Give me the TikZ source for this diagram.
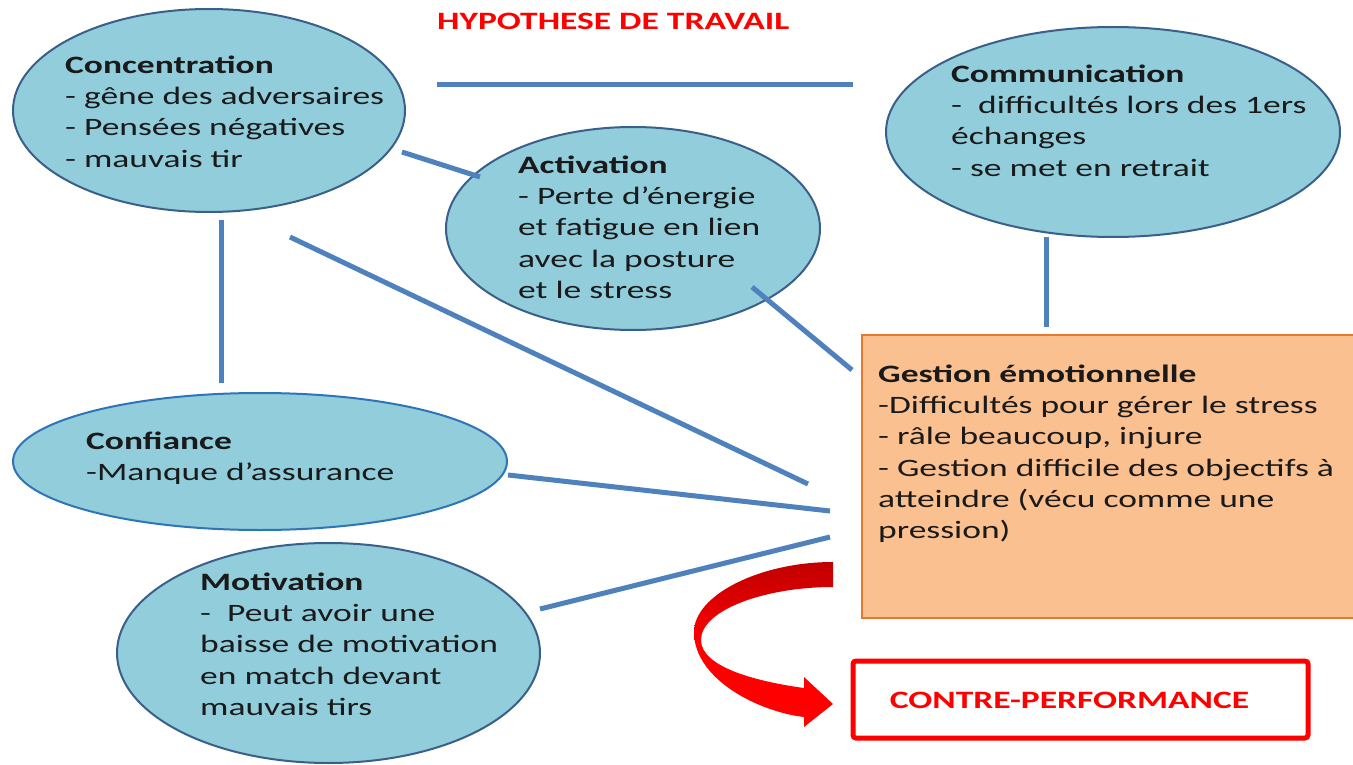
\documentclass[tikz,border=0pt]{standalone}
\usepackage{fontspec}
\setmainfont{Carlito}[FakeStretch=1.42]
\usetikzlibrary{shapes.geometric}
\definecolor{ellfill}{HTML}{92CDDC}
\definecolor{elldraw}{HTML}{3A5F8A}
\definecolor{confdraw}{HTML}{2E75B6}
\definecolor{linkblue}{HTML}{4F81BD}
\definecolor{gestfill}{HTML}{FAC090}
\definecolor{gestdraw}{HTML}{E9782F}
\definecolor{darkarrow}{HTML}{C00000}
\definecolor{txt}{HTML}{1A1A1A}
\newcommand{\firststrut}{\rule{0pt}{20pt}}
\begin{document}
\begin{tikzpicture}[x=1pt,y=-1pt,
  bubble/.style={ellipse, fill=ellfill, draw=elldraw, line width=2pt, inner sep=0pt},
  bodytext/.style={anchor=north west, inner sep=0pt, align=left, text=txt, font=\fontsize{25}{31.3}\selectfont},
  link/.style={draw=linkblue, line width=5pt},
  redtitle/.style={text=red, font=\fontsize{25}{30}\selectfont\bfseries, inner sep=0pt}]
\useasboundingbox (0,0) rectangle (1353,765);
\fill[white] (0,0) rectangle (1353,765);

% shapes
\node[bubble, minimum width=392pt, minimum height=203pt] (conc) at (209,110.5) {};
\node[bubble, minimum width=374pt, minimum height=203pt] (act) at (633,228.5) {};
\node[bubble, minimum width=454pt, minimum height=210pt] (comm) at (1113,132) {};
\node[bubble, draw=confdraw, minimum width=494pt, minimum height=137pt] (conf) at (260,461.5) {};
\node[bubble, minimum width=423pt, minimum height=220pt] (motiv) at (328.5,653) {};
\node[rectangle, fill=gestfill, draw=gestdraw, line width=2pt, minimum width=498pt, minimum height=283pt, inner sep=0pt] (gest) at (1111,476.5) {};
\node[rectangle, draw=red, line width=5pt, rounded corners=3pt, fill=white, minimum width=455pt, minimum height=77pt, inner sep=0pt] (contre) at (1080.5,699.5) {};

% texts
\node[redtitle, anchor=base west] (title) at (437,30) {HYPOTHESE DE TRAVAIL};
\node[redtitle, anchor=base] (contret) at (1069.5,708) {CONTRE-PERFORMANCE};
\node[bodytext] (conct) at (65,53) {\firststrut\textbf{Concentration}\\- gêne des adversaires\\- Pensées négatives\\- mauvais tir};
\node[bodytext] (actt) at (518,153) {\firststrut\textbf{Activation}\\- Perte d’énergie\\et fatigue en lien\\avec la posture\\et le stress};
\node[bodytext] (commt) at (951,62) {\firststrut\textbf{Communication}\\- \ difficultés lors des 1ers\\échanges\\- se met en retrait};
\node[bodytext] (conft) at (86,429) {\firststrut\textbf{Confiance}\\-Manque d’assurance};
\node[bodytext] (motivt) at (200,570) {\firststrut\textbf{Motivation}\\- \ Peut avoir une\\baisse de motivation\\en match devant\\mauvais tirs};
\node[bodytext] (gestt) at (878,362) {\firststrut\textbf{Gestion émotionnelle}\\-Difficultés pour gérer le stress\\- râle beaucoup, injure\\- Gestion difficile des objectifs à\\atteindre (vécu comme une\\pression)};

% connector end points
\coordinate (concR) at (437,85);
\coordinate (commL) at (853,85);
\coordinate (concA) at (402,152);
\coordinate (actA) at (480,177);
\coordinate (concB) at (221,220);
\coordinate (confB) at (221,383);
\coordinate (concG) at (290,237);
\coordinate (gestC) at (808,484);
\coordinate (actG) at (752,287);
\coordinate (gestA) at (852,370);
\coordinate (commG) at (1046,237);
\coordinate (gestM) at (1046,327);
\coordinate (confG) at (508,475);
\coordinate (gestF) at (830,511);
\coordinate (motivG) at (540,609);
\coordinate (gestV) at (830,537);

% connectors
\draw[link] (concR) -- (commL);
\draw[link] (concA) -- (actA);
\draw[link] (concB) -- (confB);
\draw[link] (concG) -- (gestC);
\draw[link] (actG) -- (gestA);
\draw[link] (commG) -- (gestM);
\draw[link] (confG) -- (gestF);
\draw[link] (motivG) -- (gestV);

% curved red arrow
\shade[top color=darkarrow, bottom color=red, middle color=red]
 (833,562) .. controls (760,562) and (694,595) .. (694,632)
 .. controls (694,680) and (760,712) .. (804,717)
 -- (804,727) -- (833,704) -- (804,677) -- (804,688)
 .. controls (760,682) and (701,668) .. (701,640)
 .. controls (701,610) and (765,587) .. (833,587) -- cycle;
\end{tikzpicture}
\end{document}
